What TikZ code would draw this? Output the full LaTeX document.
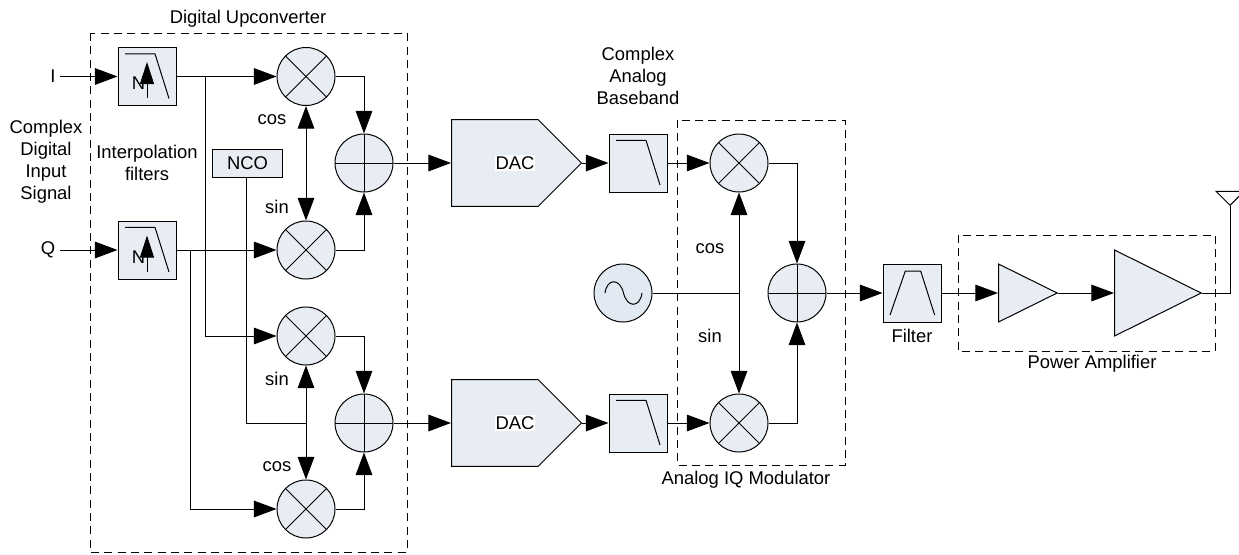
\documentclass[tikz,border=0pt]{standalone}
\usepackage{fontspec}
\setmainfont{Liberation Sans}
\usetikzlibrary{arrows.meta,shapes.geometric,shapes.symbols}
\tikzset{
  bigtip/.style={-{Triangle[length=17pt,width=12.5pt]}},
  bothtip/.style={{Triangle[length=17pt,width=12.5pt]}-{Triangle[length=17pt,width=12.5pt]}},
  wire/.style={line width=0.75pt},
  blockfill/.style={draw,line width=0.75pt,fill={rgb,255:red,232;green,237;blue,244},inner sep=0pt},
  dashbox/.style={line width=0.75pt,dash pattern={on 6pt off 4pt}},
  filterbox/.style={blockfill,minimum size=43.5pt},
  mixer/.style={blockfill,circle,minimum size=43.5pt,path picture={
    \draw[wire] (path picture bounding box.north west) -- (path picture bounding box.south east);
    \draw[wire] (path picture bounding box.north east) -- (path picture bounding box.south west);}},
  adder/.style={blockfill,circle,minimum size=43.5pt,path picture={
    \draw[wire] (path picture bounding box.north) -- (path picture bounding box.south);
    \draw[wire] (path picture bounding box.west) -- (path picture bounding box.east);}},
  lowpass/.style={filterbox,path picture={
    \draw[wire] ([shift={(-16.5pt,17pt)}]path picture bounding box.center) -- ++(22.5pt,0pt) -- ++(10.5pt,-33.5pt);}},
  bandpass/.style={filterbox,path picture={
    \draw[wire] ([shift={(-16.5pt,-16.5pt)}]path picture bounding box.center) -- ++(11.5pt,33pt) -- ++(11.5pt,0pt) -- ++(10.5pt,-33pt);}},
  dacblock/.style={blockfill,signal,signal to=east,signal pointer angle=90,minimum width=97.5pt,minimum height=65pt,anchor=west},
  ampsmall/.style={blockfill,isosceles triangle,isosceles triangle apex angle=52.5,isosceles triangle stretches,minimum height=44pt,minimum width=43.5pt,anchor=lower side},
  ampbig/.style={blockfill,isosceles triangle,isosceles triangle apex angle=52.5,isosceles triangle stretches,minimum height=65pt,minimum width=64.5pt,anchor=lower side},
  lbl/.style={inner sep=0.75pt,align=center,font=\fontsize{13.8}{16.5}\selectfont},
}

\begin{document}
\begin{tikzpicture}[x=0.75pt,y=0.75pt,yscale=-1,xscale=1]
\useasboundingbox (0,0) rectangle (1239,554);

%Dashed Boxes
\draw [dashbox] (90,33) rectangle (407,552);
\draw [dashbox] (677,120) rectangle (845,465);
\draw [dashbox] (958,235) rectangle (1215,351);

%Blocks
\node (filtI) at (147,76.5) [lowpass] {};
\node (filtQ) at (147,250) [lowpass] {};
\node (nco) at (247.5,163) [blockfill,minimum width=53pt,minimum height=21pt] {};
\node (mixA) at (306,76.5) [mixer] {};
\node (mixB) at (306,250) [mixer] {};
\node (mixC) at (306,336) [mixer] {};
\node (mixD) at (306,509) [mixer] {};
\node (addA) at (364,163) [adder] {};
\node (addB) at (364,423) [adder] {};
\node (dacA) at (451,163) [dacblock] {};
\node (dacB) at (451,423) [dacblock] {};
\node (lpfA) at (638,163) [lowpass] {};
\node (lpfB) at (638,423) [lowpass] {};
\node (mixE) at (739,163) [mixer] {};
\node (mixF) at (739,423) [mixer] {};
\node (addC) at (797,293) [adder] {};
\node (osc) at (623,293) [blockfill,circle,minimum size=43.5pt,fill={rgb,255:red,225;green,234;blue,243}] {};
\node (bpf) at (912,293) [bandpass] {};
\node (ampA) at (998,293) [ampsmall] {};
\node (ampB) at (1114,293) [ampbig] {};
\node (ant) at (1230,206) [draw,line width=0.75pt,fill=white,inner sep=0pt,isosceles triangle,isosceles triangle apex angle=90,isosceles triangle stretches,minimum height=10.5pt,minimum width=21pt,shape border rotate=-90,anchor=apex] {};

%Free Points
\coordinate (inI) at (60,76.5);
\coordinate (inQ) at (60,250);
\coordinate (tapI) at (205,76.5);
\coordinate (tapQ) at (190,250);
\coordinate (ncoTurn) at (246.5,423);
\coordinate (ncoJoin) at (306,423);
\coordinate (oscJoin) at (739,293);
\coordinate (antTurn) at (1230,293);

%Sine Wave
\draw [wire] (605,293) .. controls (607,278) and (620,278) .. (623.5,293) .. controls (627,308) and (640,308) .. (642,293);

%Decimation Arrows
\coordinate (upIa) at (147,98);
\coordinate (upIb) at (147,62);
\coordinate (upQa) at (147,271.5);
\coordinate (upQb) at (147,235.5);

%Straight Lines
\draw [wire,bigtip] (inI) -- (filtI.west);
\draw [wire,bigtip] (inQ) -- (filtQ.west);
\draw [wire,bigtip] (filtI.east) -- (mixA.west);
\draw [wire,bigtip] (filtQ.east) -- (mixB.west);
\draw [wire,bigtip] (tapI) |- (mixC.west);
\draw [wire,bigtip] (tapQ) |- (mixD.west);
\draw [wire] (nco.south -| ncoTurn) -- (ncoTurn) -- (ncoJoin);
\draw [wire,bothtip] (mixA.south) -- (mixB.north);
\draw [wire,bigtip] (ncoJoin) -- (mixC.south);
\draw [wire,bigtip] (ncoJoin) -- (mixD.north);
\draw [wire,bigtip] (mixA.east) -| (addA.north);
\draw [wire,bigtip] (mixB.east) -| (addA.south);
\draw [wire,bigtip] (mixC.east) -| (addB.north);
\draw [wire,bigtip] (mixD.east) -| (addB.south);
\draw [wire,bigtip] (addA.east) -- (dacA.west);
\draw [wire,bigtip] (addB.east) -- (dacB.west);
\draw [wire,bigtip] (dacA.east) -- (lpfA.west);
\draw [wire,bigtip] (dacB.east) -- (lpfB.west);
\draw [wire,bigtip] (lpfA.east) -- (mixE.west);
\draw [wire,bigtip] (lpfB.east) -- (mixF.west);
\draw [wire,bothtip] (mixE.south) -- (mixF.north);
\draw [wire] (osc.east) -- (oscJoin);
\draw [wire,bigtip] (mixE.east) -| (addC.north);
\draw [wire,bigtip] (mixF.east) -| (addC.south);
\draw [wire,bigtip] (addC.east) -- (bpf.west);
\draw [wire,bigtip] (bpf.east) -- (ampA.lower side);
\draw [wire,bigtip] (ampA.apex) -- (ampB.lower side);
\draw [wire] (ampB.apex) -- (antTurn) -- (ant.apex);

% Text Node
\node (lblI) at (53,76) [lbl] {I};
\node (lblQ) at (48,250) [lbl] {Q};
\node (nI) at (138.5,83.5) [lbl] {N};
\node (nQ) at (138.5,257) [lbl] {N};
\draw [wire,-{Triangle[length=16.5pt,width=10.5pt]}] (upIa) -- (upIb);
\draw [wire,-{Triangle[length=16.5pt,width=10.5pt]}] (upQa) -- (upQb);
\node (lblNco) at (nco) [lbl] {NCO};
\node (lblDuc) at (248,19) [lbl] {Digital Upconverter};
\node (lblInput) at (46,162) [lbl] {Complex\\Digital\\Input\\Signal};
\node (lblInterp) at (147,163) [lbl] {Interpolation\\filters};
\node (lblCosA) at (272,120) [lbl] {cos};
\node (lblSinA) at (277,207) [lbl] {sin};
\node (lblSinB) at (277,379) [lbl] {sin};
\node (lblCosB) at (277,467) [lbl] {cos};
\node (lblDacA) at (515,163) [lbl,fill=white] {DAC};
\node (lblDacB) at (515,423) [lbl,fill=white] {DAC};
\node (lblBase) at (638,76) [lbl] {Complex\\Analog\\Baseband};
\node (lblCosC) at (710,249) [lbl] {cos};
\node (lblSinC) at (710,336) [lbl] {sin};
\node (lblIq) at (746,480) [lbl] {Analog IQ Modulator};
\node (lblFilter) at (912,336) [lbl] {Filter};
\node (lblPa) at (1092,364) [lbl] {Power Amplifier};

\end{tikzpicture}
\end{document}
